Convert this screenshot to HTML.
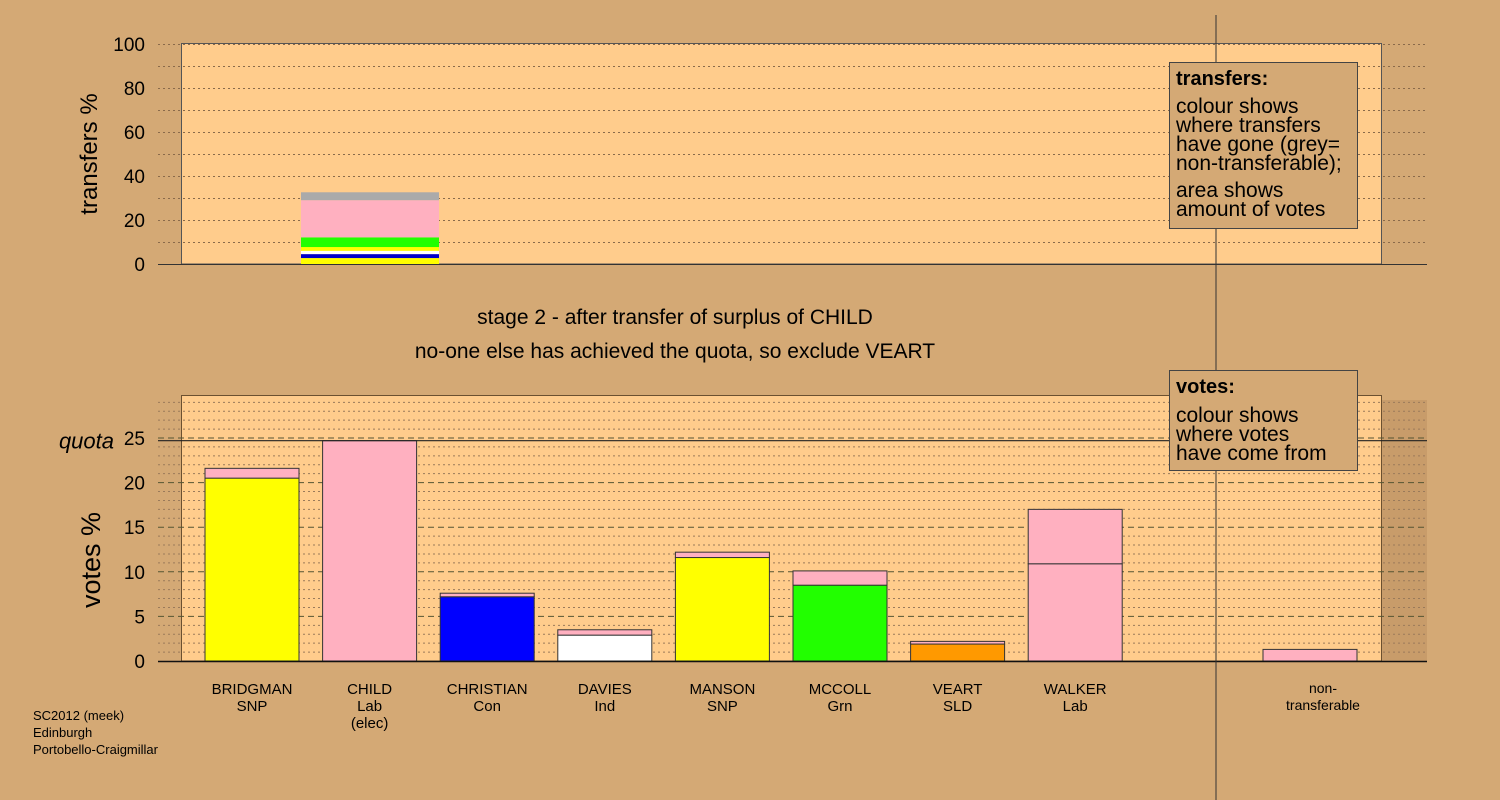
<!DOCTYPE html>
<html><head><meta charset="utf-8"><style>
body{margin:0;background:#D4A975;}
svg{display:block;font-family:"Liberation Sans",sans-serif;}
</style></head><body>
<svg id="c" width="1500" height="800" viewBox="0 0 1500 800">
<rect width="1500" height="800" fill="#D4A975"/>
<g id="topPanel"></g>
<g id="botPanel"></g>
<line x1="1216" y1="15" x2="1216" y2="800" stroke="#333" stroke-width="1"/>
<text x="675" y="324" font-size="21" text-anchor="middle">stage 2 - after transfer of surplus of CHILD</text>
<text x="675" y="358" font-size="21" text-anchor="middle">no-one else has achieved the quota, so exclude VEART</text>
<g>
<rect x="1169.5" y="62.5" width="188" height="166" fill="#D4A975" stroke="#444"/>
<text x="1176" y="85" font-size="20" font-weight="bold">transfers:</text>
<text font-size="21"><tspan x="1176" y="113">colour shows</tspan><tspan x="1176" y="132">where transfers</tspan><tspan x="1176" y="151">have gone (grey=</tspan><tspan x="1176" y="170">non-transferable);</tspan><tspan x="1176" y="197">area shows</tspan><tspan x="1176" y="216">amount of votes</tspan></text>
</g>
<g>
<rect x="1169.5" y="370.5" width="188" height="100" fill="#D4A975" stroke="#444"/>
<text x="1176" y="393" font-size="20" font-weight="bold">votes:</text>
<text font-size="21"><tspan x="1176" y="422">colour shows</tspan><tspan x="1176" y="441">where votes</tspan><tspan x="1176" y="460">have come from</tspan></text>
</g>
<text font-size="13"><tspan x="33" y="720">SC2012 (meek)</tspan><tspan x="33" y="737">Edinburgh</tspan><tspan x="33" y="754">Portobello-Craigmillar</tspan></text>
</svg>
<script>
const categories=["BRIDGMAN","CHILD","CHRISTIAN","DAVIES","MANSON","MCCOLL","VEART","WALKER"];
const parties=["SNP","Lab","Con","Ind","SNP","Grn","SLD","Lab"];
const baseColors=["#FFFF00","#FFB0C0","#0000FF","#FFFFFF","#FFFF00","#22FF00","#FF9900","#FFB0C0"];
const baseVotes=[20.5,24.7,7.2,2.9,11.6,8.5,1.9,10.9];
const transferVotes=[1.1,0,0.4,0.6,0.6,1.6,0.3,6.1];
const nonTransferable=1.3;
const quota=24.7;
const transferSegments=[2.7,1.8,1.5,1.7,4.4,16.9,3.6];
const transferColors=["#FFFF00","#0000CC","#FFFFFF","#FFFF00","#22FF00","#FFB0C0","#AAAAAA"];
const topTicks=[0,20,40,60,80,100];
const botTicks=[0,5,10,15,20,25];

const NS="http://www.w3.org/2000/svg";
function mk(p,t,a){const e=document.createElementNS(NS,t);for(const k in a)e.setAttribute(k,a[k]);p.appendChild(e);return e;}
const L=181,R=1381;
const yT=v=>264-v*2.2;
const yB=v=>661-v*8.92;
const xC=i=>252+i*117.6;
const topG=document.getElementById('topPanel'),botG=document.getElementById('botPanel');

let r=mk(topG,'rect',{x:L+.5,y:43.5,width:R-L,height:yT(0)-43.5,fill:'#FFCC8C',stroke:'#555'});


for(let v=10;v<=100;v+=10){const l=mk(topG,'line',{x1:158,x2:1427,y1:yT(v)+.5,y2:yT(v)+.5,stroke:'#8a6a4a','stroke-dasharray':'2,3','stroke-width':1});

}
let acc=0;
transferSegments.forEach((s,i)=>{const e=mk(topG,'rect',{x:301,width:138,y:yT(acc+s),height:s*2.2,fill:transferColors[i]});

acc+=s;});
mk(topG,'line',{x1:158,x2:1427,y1:264.5,y2:264.5,stroke:'#333'});
topTicks.forEach(v=>{const t=mk(topG,'text',{x:145,y:yT(v)+7,'font-size':19,'text-anchor':'end'});t.textContent=v;

});
let at=mk(topG,'text',{transform:'translate(97,154) rotate(-90)','font-size':24,'text-anchor':'middle'});at.textContent='transfers %';



mk(botG,'rect',{x:1381,y:400,width:46,height:261,fill:'#C89C6A'});
r=mk(botG,'rect',{x:L+.5,y:395.5,width:R-L,height:661-395.5,fill:'#FFCC8C',stroke:'#6b5030'});


for(let v=1;v<=29;v++){const major=v%5==0;const l=mk(botG,'line',{x1:158,x2:1427,y1:yB(v),y2:yB(v),stroke:major?'#553':'#9a7a5a','stroke-dasharray':major?'6,4':'2,3','stroke-width':1});

}
categories.forEach((c,i)=>{const x=xC(i)-47;
const b=mk(botG,'rect',{x:x,width:94,y:yB(baseVotes[i]),height:baseVotes[i]*8.92,fill:baseColors[i],stroke:'#333','stroke-width':1});


if(transferVotes[i]>0){const t=mk(botG,'rect',{x:x,width:94,y:yB(baseVotes[i]+transferVotes[i]),height:transferVotes[i]*8.92,fill:'#FFB0C0',stroke:'#333','stroke-width':1});

}
const lb=mk(botG,'text',{'font-size':15,'text-anchor':'middle'});


const lines=[c,parties[i]];if(i==1)lines.push('(elec)');
lines.forEach((s,k)=>{const ts=mk(lb,'tspan',{x:xC(i),y:694+k*17});ts.textContent=s;});});
const nb=mk(botG,'rect',{x:1263,width:94,y:yB(nonTransferable),height:nonTransferable*8.92,fill:'#FFB0C0',stroke:'#333'});


const nl=mk(botG,'text',{'font-size':14,'text-anchor':'middle'});


['non-','transferable'].forEach((s,k)=>{const ts=mk(nl,'tspan',{x:1323,y:693+k*17});ts.textContent=s;});
const ql=mk(botG,'line',{x1:158,x2:1427,y1:yB(quota),y2:yB(quota),stroke:'#222','stroke-width':1.2});


mk(botG,'line',{x1:158,x2:1427,y1:661.5,y2:661.5,stroke:'#111','stroke-width':1.5});
botTicks.forEach(v=>{const t=mk(botG,'text',{x:145,y:yB(v)+7,'font-size':19,'text-anchor':'end'});t.textContent=v;

});
const qt=mk(botG,'text',{x:114,y:yB(quota)+8,'font-size':22,'font-style':'italic','text-anchor':'end'});qt.textContent='quota';


const bt=mk(botG,'text',{transform:'translate(100,560) rotate(-90)','font-size':27,'text-anchor':'middle'});bt.textContent='votes %';


</script>
</body></html>
